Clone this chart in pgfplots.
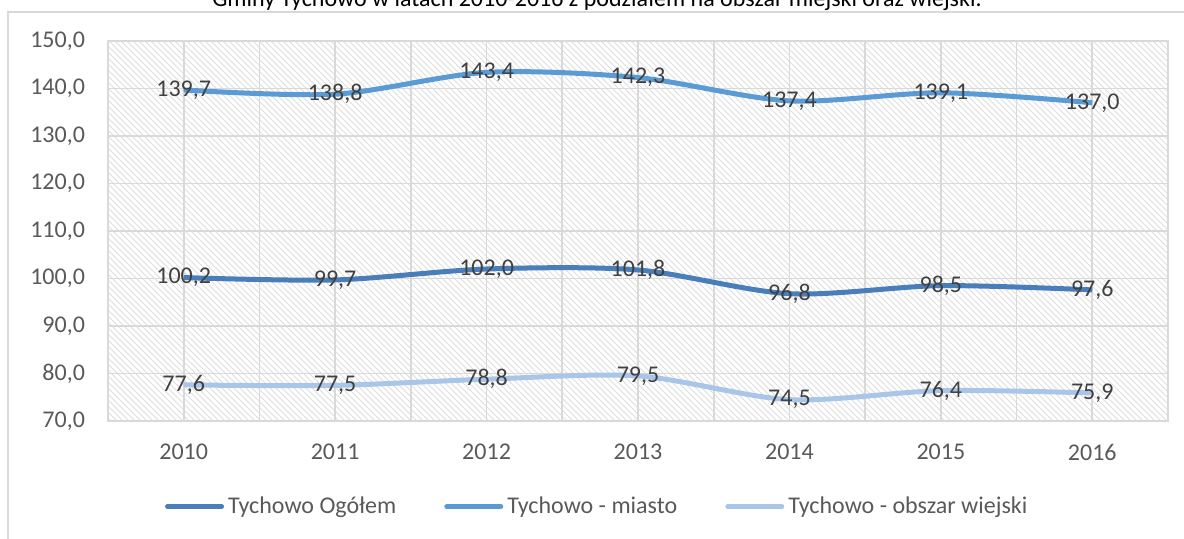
\documentclass[border=0pt]{standalone}
\usepackage{pgfplots}
\pgfplotsset{compat=1.18}
\usepackage{fontspec}
\setmainfont{Carlito}
\usetikzlibrary{patterns}
\definecolor{c1}{HTML}{4A7EBB}
\definecolor{c2}{HTML}{5B9BD5}
\definecolor{c3}{HTML}{A9C6E8}
\definecolor{txt}{HTML}{595959}
\definecolor{lbl}{HTML}{404040}
\definecolor{gridc}{HTML}{D9D9D9}
\begin{document}
\begin{tikzpicture}
\draw[gridc, line width=0.8pt] (4pt,-20pt) rectangle (620pt,263pt);
\node[anchor=base, font=\fontsize{12}{14}\selectfont, text=black] at (298.5pt,266pt) {Gminy Tychowo w latach 2010-2016 z podziałem na obszar miejski oraz wiejski.};
\begin{axis}[
  at={(54pt,58.5pt)}, anchor=south west,
  scale only axis, width=530pt, height=190pt,
  xmin=-0.5, xmax=6.5, ymin=70, ymax=150,
  xtick={0,...,6}, xticklabels={2010,2011,2012,2013,2014,2015,2016},
  minor xtick={-0.5,0.5,...,6.5},
  ytick={70,80,...,150},
  xmajorgrids, xminorgrids, ymajorgrids,
  grid style={gridc, line width=0.8pt},
  minor grid style={gridc, line width=0.8pt},
  axis line style={gridc, line width=0.8pt},
  major tick length=0pt, minor tick length=0pt,
  axis background/.style={pattern=north west lines, pattern color=black!13},
  tick label style={font=\fontsize{12}{14}\selectfont, text=txt},
  /pgf/number format/assume math mode=true,
  yticklabel={\pgfmathprintnumber[fixed,fixed zerofill,precision=1,use comma]{\tick}},
  yticklabel style={xshift=-8pt},
  xticklabel style={yshift=-8pt},
  legend columns=3,
  legend style={at={(0.4625,-0.225)}, anchor=center, draw=none, fill=none,
    font=\fontsize{12}{14}\selectfont, text=txt,
    /tikz/every even column/.append style={column sep=22pt}},
  legend image code/.code={\draw[#1, line width=2.5pt, line cap=round] (0pt,0pt) -- (27pt,0pt);},
  nodes near coords={\pgfmathprintnumber[fixed,fixed zerofill,precision=1,use comma,assume math mode=true]{\pgfplotspointmeta}},
  nodes near coords align=center,
  every node near coord/.append style={font=\fontsize{12}{14}\selectfont, text=lbl, anchor=center},
  clip=false,
]
\addplot[c1, line width=2.5pt, smooth, tension=0.5] coordinates {(0,100.2) (1,99.7) (2,102.0) (3,101.8) (4,96.8) (5,98.5) (6,97.6)};
\addlegendentry{Tychowo Ogółem}
\addplot[c2, line width=2.5pt, smooth, tension=0.5] coordinates {(0,139.7) (1,138.8) (2,143.4) (3,142.3) (4,137.4) (5,139.1) (6,137.0)};
\addlegendentry{Tychowo - miasto}
\addplot[c3, line width=2.5pt, smooth, tension=0.5] coordinates {(0,77.6) (1,77.5) (2,78.8) (3,79.5) (4,74.5) (5,76.4) (6,75.9)};
\addlegendentry{Tychowo - obszar wiejski}
\end{axis}
\pgfresetboundingbox
\useasboundingbox (0,0) rectangle (592pt,269pt);
\end{tikzpicture}
\end{document}
